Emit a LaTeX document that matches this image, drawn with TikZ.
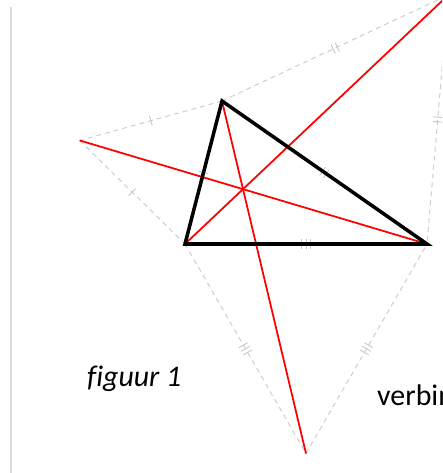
\documentclass[tikz,border=0pt]{standalone}
\usepackage{fontspec}
\setmainfont{Carlito}[Ligatures=NoCommon]
\usetikzlibrary{calc,decorations.markings}
\definecolor{rand}{RGB}{214,219,226}

\begin{document}
\begin{tikzpicture}[x=0.2mm,y=-0.2mm,
  hulp/.style={gray!40,line width=0.55pt,dash pattern=on 2.8pt off 2.3pt},
  streep/.style={postaction={decorate,decoration={markings,mark=at position .5 with
    {\foreach \d in {#1} \draw[gray!45,solid,line width=0.5pt] (\d pt,-2.8pt) -- (\d pt,2.8pt);}}}},
  lijn/.style={red,line width=1pt},
  zijde/.style={line width=2pt,line join=miter},
  tekst/.style={font=\fontsize{17}{20}\selectfont,anchor=base west}]
  \clip (0,0) rectangle (442,473);
  \draw[rand,line width=1.1pt] (11,7) -- (11,473);
  % driehoek en de drie gelijkzijdige driehoeken
  \coordinate (A) at (222,101);
  \coordinate (B) at (185,244);
  \coordinate (C) at (427,244);
  \coordinate (L) at ($(A)!1!-60:(B)$);
  \coordinate (R) at ($(A)!1!60:(C)$);
  \coordinate (O) at ($(B)!1!-60:(C)$);
  \draw[hulp,streep={0}] (A) -- (L);
  \draw[hulp,streep={0}] (L) -- (B);
  \draw[hulp,streep={-1.3,1.3}] (A) -- (R);
  \draw[hulp,streep={-1.3,1.3}] (R) -- (C);
  \draw[hulp,streep={-2.4,0,2.4}] (B) -- (O);
  \draw[hulp,streep={-2.4,0,2.4}] (O) -- (C);
  \path[streep={0}] (A) -- (B);
  \path[streep={-1.3,1.3}] (A) -- (C);
  \path[streep={-2.4,0,2.4}] (B) -- (C);
  % verbindingslijnen
  \draw[lijn] (A) -- (O);
  \draw[lijn] (B) -- (R);
  \draw[lijn] (C) -- (L);
  \draw[zijde] (A) -- (B) -- (C) -- cycle;
  \node[tekst,font=\fontsize{17}{20}\selectfont\itshape] (fig) at (81,386) {figuur 1};
  \node[tekst] (verb) at (371,405) {verbin};
\end{tikzpicture}
\end{document}
